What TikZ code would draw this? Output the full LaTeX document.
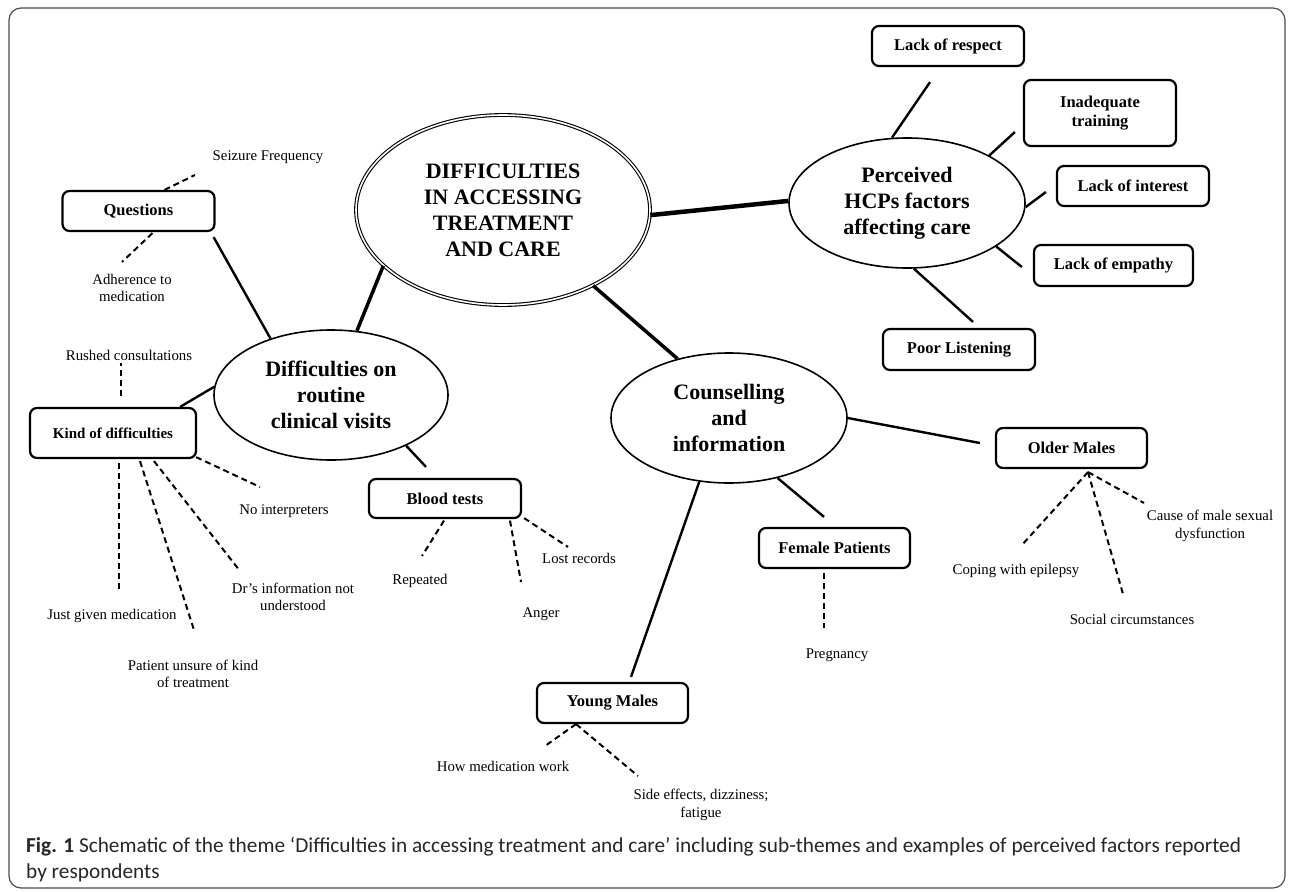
\documentclass[tikz,border=0pt]{standalone}
\usepackage{fontspec}
\setmainfont{Liberation Serif}
\newfontfamily\capfont{Carlito}
\usetikzlibrary{shapes.geometric}

\tikzset{
  theme/.style={ellipse, draw, line width=1.6pt, inner sep=0pt, align=center,
    font=\bfseries\fontsize{22}{26}\selectfont, minimum width=236pt, minimum height=130pt},
  bigtheme/.style={theme, double, double distance=1.6pt, line width=1.1pt,
    minimum width=294pt, minimum height=190pt},
  factor/.style={draw, line width=2.2pt, rounded corners=7pt, align=center, inner sep=0pt,
    font=\bfseries\fontsize{16.5}{19}\selectfont, minimum width=152pt, minimum height=40pt},
  leaf/.style={align=center, inner sep=0pt, font=\fontsize{14.8}{17.5}\selectfont},
  link/.style={line width=2.4pt},
  hint/.style={line width=2pt, dash pattern=on 6pt off 4pt}
}

\begin{document}
\begin{tikzpicture}[x=1pt,y=-1pt]
    \useasboundingbox (0,0) rectangle (1292,891);
    \draw [black!70, line width=1.2pt, rounded corners=12pt] (9,8) rectangle (1285,888);

    \node [bigtheme] (main) at (503,210) {DIFFICULTIES\\IN ACCESSING\\TREATMENT\\AND CARE};
    \node [theme] (hcp) at (907,203) {Perceived\\HCPs factors\\affecting care};
    \node [theme, minimum width=234pt] (visits) at (331,395) {Difficulties on\\routine\\clinical visits};
    \node [theme] (couns) at (729,418) {Counselling\\and\\information};

    \node [factor] (quest) at (138.5,211) {Questions};
    \node [factor, minimum width=166pt, minimum height=50pt, font=\bfseries\fontsize{15}{18}\selectfont] (kind) at (113,433) {Kind of difficulties};
    \node [factor, minimum height=39pt] (blood) at (445,498.5) {Blood tests};
    \node [factor] (respect) at (948,46) {Lack of respect};
    \node [factor, minimum height=66pt] (training) at (1100,113) {Inadequate\\training};
    \node [factor] (interest) at (1133,186) {Lack of interest};
    \node [factor, minimum width=159pt, minimum height=41pt] (empathy) at (1113.5,265.5) {Lack of empathy};
    \node [factor, minimum height=41pt] (listen) at (959,349.5) {Poor Listening};
    \node [factor, minimum width=151pt] (older) at (1071.5,448) {Older Males};
    \node [factor, minimum width=151pt] (female) at (834.5,548) {Female Patients};
    \node [factor, minimum width=151pt] (young) at (612.5,703) {Young Males};

    \node [leaf] (seizure) at (268,157) {Seizure Frequency};
    \node [leaf] (adhere) at (132,288) {Adherence to\\medication};
    \node [leaf] (rushed) at (129,355) {Rushed consultations};
    \node [leaf] (interp) at (284,511) {No interpreters};
    \node [leaf] (drinfo) at (293,597) {Dr’s information not\\understood};
    \node [leaf] (given) at (112,616) {Just given medication};
    \node [leaf] (unsure) at (193,674) {Patient unsure of kind\\of treatment};
    \node [leaf] (repeat) at (420,581) {Repeated};
    \node [leaf] (anger) at (541,614) {Anger};
    \node [leaf] (lost) at (579,558) {Lost records};
    \node [leaf] (howmed) at (503,766) {How medication work};
    \node [leaf] (side) at (701,805) {Side effects, dizziness;\\fatigue};
    \node [leaf] (preg) at (837,655) {Pregnancy};
    \node [leaf] (coping) at (1016,571) {Coping with epilepsy};
    \node [leaf] (social) at (1132,619) {Social circumstances};
    \node [leaf] (cause) at (1210,526) {Cause of male sexual\\dysfunction};

    \draw [line width=4.5pt] (main.358.5) -- (hcp.179.5);
    \draw [line width=3.5pt] (main.205.4) -- (visits.68.2);
    \draw [line width=3.5pt] (main.320.6) -- (couns.131);

    \draw [link] ([xshift=-2pt,yshift=-5pt]quest.south east) -- (visits.137.4);
    \draw [link] (visits.176) -- ([xshift=-17pt]kind.north east);
    \draw [link] (visits.326.3) -- ([xshift=-19pt,yshift=11pt]blood.north);
    \draw [link] (hcp.103.8) -- ([xshift=-18pt,yshift=-15pt]respect.south);
    \draw [link] (hcp.30.4) -- ([xshift=-8pt,yshift=-19pt]training.west);
    \draw [link] (hcp.358) -- ([xshift=-10pt,yshift=-6pt]interest.west);
    \draw [link] (hcp.334.5) -- ([xshift=-11pt,yshift=-1.5pt]empathy.west);
    \draw [link] (hcp.276) -- ([xshift=14pt,yshift=6pt]listen.north);
    \draw [link] (couns.0.5) -- ([xshift=-15pt,yshift=5pt]older.west);
    \draw [link] (couns.309) -- ([xshift=-10.5pt,yshift=10pt]female.north);
    \draw [link] (couns.245) -- ([xshift=18.5pt,yshift=5pt]young.north);

    \draw [hint] ([xshift=26pt]quest.north) -- ([xshift=-73pt,yshift=-18pt]seizure.center);
    \draw [hint] ([xshift=14pt,yshift=-1pt]quest.south) -- ([xshift=-10pt,yshift=26pt]adhere.center);
    \draw [hint] ([xshift=8pt,yshift=11pt]kind.north) -- ([xshift=-8pt,yshift=-8pt]rushed.center);
    \draw [hint] ([xshift=6pt,yshift=-4pt]kind.south) -- ([xshift=7pt,yshift=24pt]given.center);
    \draw [hint] ([xshift=27pt,yshift=-2pt]kind.south) -- ([xshift=1pt,yshift=44pt]unsure.center);
    \draw [hint] ([xshift=41pt,yshift=-2pt]kind.south) -- ([xshift=-53pt,yshift=26pt]drinfo.center);
    \draw [hint] ([xshift=-1pt,yshift=2pt]kind.south east) -- ([xshift=-24pt,yshift=24pt]interp.center);
    \draw [hint] ([xshift=-1pt,yshift=-1.5pt]blood.south) -- ([xshift=2pt,yshift=25pt]repeat.center);
    \draw [hint] ([xshift=65pt,yshift=-1.5pt]blood.south) -- ([xshift=-20pt,yshift=32pt]anger.center);
    \draw [hint] ([xshift=2pt,yshift=1pt]blood.south east) -- ([xshift=-11pt,yshift=11pt]lost.center);
    \draw [hint] ([xshift=-36.5pt]young.south) -- ([xshift=42pt,yshift=20pt]howmed.center);
    \draw [hint] ([xshift=-36.5pt]young.south) -- ([xshift=-63pt,yshift=29pt]side.center);
    \draw [hint] ([xshift=-10.5pt,yshift=-4pt]female.south) -- ([xshift=-13pt,yshift=27pt]preg.center);
    \draw [hint] ([xshift=16.5pt,yshift=-3pt]older.south) -- ([xshift=5pt,yshift=25pt]coping.center);
    \draw [hint] ([xshift=16.5pt,yshift=-3pt]older.south) -- ([xshift=-9pt,yshift=25pt]social.center);
    \draw [hint] ([xshift=16.5pt,yshift=-3pt]older.south) -- ([xshift=-66pt,yshift=23pt]cause.center);

    \node [anchor=west, align=left, inner sep=0pt, text=black!85, font=\capfont\fontsize{21.3}{26}\selectfont] (caption) at (26,860)
      {\textbf{Fig. 1} Schematic of the theme ‘Difficulties in accessing treatment and care’ including sub-themes and examples of perceived factors reported\\by respondents};
\end{tikzpicture}
\end{document}
